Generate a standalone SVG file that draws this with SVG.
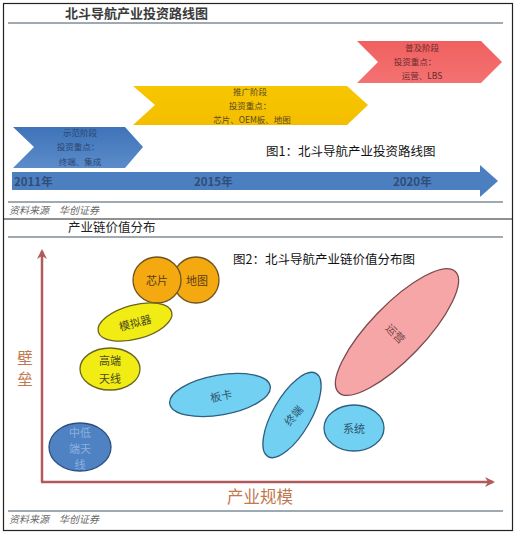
<svg xmlns="http://www.w3.org/2000/svg" width="516" height="533" viewBox="0 0 516 533">
<defs>
<style>
.t{font-family:"Noto Sans CJK SC","Liberation Sans",sans-serif}
.title{font-size:13px;font-weight:bold;fill:#3a3a3a}
.rule{stroke:#7f8c99;stroke-width:1.5}
.src{font-size:10px;font-style:italic;fill:#6a6a6a}
.cap{font-size:12.5px;fill:#111}
.chev{font-size:8.5px;text-anchor:middle}
.yr{font-size:11.5px;font-weight:bold;fill:#2f4d78}
.ax{stroke:#b05a5c;stroke-width:2.5;fill:none}
.axl{font-size:16.5px;fill:#c0784e}
.el{font-size:11px;text-anchor:middle;dominant-baseline:central}
.lb{fill:#72d0f2;stroke:#2e5f7e;stroke-width:1.3}
.yl{fill:#f1ec14;stroke:#6b6420;stroke-width:1.3}
.or{fill:#f4a910;stroke:#6e5220;stroke-width:1.3}
</style>
<linearGradient id="gb" x1="0" y1="0" x2="0" y2="1"><stop offset="0" stop-color="#3f73b8"/><stop offset="1" stop-color="#5b8cca"/></linearGradient>
<linearGradient id="gy" x1="0" y1="0" x2="0" y2="1"><stop offset="0" stop-color="#f7c600"/><stop offset="1" stop-color="#f3be00"/></linearGradient>
<linearGradient id="gr" x1="0" y1="0" x2="0" y2="1"><stop offset="0" stop-color="#f06060"/><stop offset="1" stop-color="#f47272"/></linearGradient>
<marker id="ah" viewBox="0 0 10 10" refX="8" refY="5" markerWidth="4" markerHeight="4" orient="auto"><path d="M0,0 L10,5 L0,10 L3,5 Z" fill="#b05a5c"/></marker>
</defs>
<rect width="516" height="533" fill="#fff"/>
<rect x="3.5" y="3.5" width="509" height="527" fill="none" stroke="#222" stroke-width="1.2"/>
<line x1="3" y1="219" x2="513" y2="219" stroke="#222" stroke-width="1.2"/>

<!-- top panel -->
<g id="top-title">
<text class="t title" x="65" y="18">北斗导航产业投资路线图</text>
<line class="rule" x1="8" y1="23" x2="503" y2="23"/>
</g>
<g id="stage3">
<path d="M357,41 L481,41 L502,62 L481,83 L357,83 L378,62 Z" fill="url(#gr)"/>
<text class="t chev" fill="#6a2a2a" x="422" y="51">普及阶段</text>
<text class="t chev" fill="#6a2a2a" x="415" y="65">投资重点：</text>
<text class="t chev" fill="#6a2a2a" x="422" y="79">运营、LBS</text>
</g>
<g id="stage2">
<path d="M133,86 L347,86 L368,105 L347,125 L133,125 L155,105 Z" fill="url(#gy)"/>
<text class="t chev" fill="#5a4a20" x="250" y="95">推广阶段</text>
<text class="t chev" fill="#5a4a20" x="250" y="109">投资重点：</text>
<text class="t chev" fill="#5a4a20" x="252" y="123">芯片、OEM板、地图</text>
</g>
<g id="stage1">
<path d="M13,127 L125,127 L143,147 L125,168 L13,168 L34,147 Z" fill="url(#gb)"/>
<text class="t chev" fill="#2a4670" x="80" y="136">示范阶段</text>
<text class="t chev" fill="#2a4670" x="78" y="150">投资重点：</text>
<text class="t chev" fill="#2a4670" x="80" y="165">终端、集成</text>
</g>
<g id="timeline">
<path d="M12,172 L480,172 L480,165 L498,181 L480,197 L480,190 L12,190 Z" fill="#4c7fc0"/>
<text class="t yr" x="14" y="186">2011年</text>
<text class="t yr" x="194" y="186">2015年</text>
<text class="t yr" x="393" y="186">2020年</text>
</g>
<text class="t cap" x="266" y="156">图1：北斗导航产业投资路线图</text>
<line class="rule" x1="8" y1="202" x2="503" y2="202"/>
<text class="t src" x="9" y="214">资料来源　华创证券</text>

<!-- bottom panel -->
<g id="bottom-title">
<text class="t" x="68" y="232" style="font-size:12.5px;fill:#222">产业链价值分布</text>
<line class="rule" x1="8" y1="237" x2="503" y2="237"/>
</g>
<text class="t cap" x="233" y="264">图2：北斗导航产业链价值分布图</text>

<g id="connectors">
<line class="ax" x1="42" y1="482" x2="42" y2="251" marker-end="url(#ah)"/>
<line class="ax" x1="41" y1="482" x2="493" y2="482" marker-end="url(#ah)"/>
</g>
<text class="t axl" x="25" y="364" text-anchor="middle" style="font-size:15.5px">壁</text>
<text class="t axl" x="25" y="385" text-anchor="middle" style="font-size:15.5px">垒</text>
<text class="t axl" x="227" y="503">产业规模</text>

<g id="map"><ellipse class="or" cx="196" cy="280" rx="23" ry="23"/><text class="t el" x="197" y="280" fill="#5a3a10">地图</text></g>
<g id="chip"><ellipse class="or" cx="157" cy="280" rx="24" ry="23"/><text class="t el" x="157" y="280" fill="#5a3a10">芯片</text></g>
<g id="simulator"><ellipse class="yl" cx="135" cy="322" rx="38" ry="17" transform="rotate(-15 135 322)"/><text class="t el" x="135" y="322" fill="#4a4a20" transform="rotate(-15 135 322)">模拟器</text></g>
<g id="hi-antenna"><ellipse class="yl" cx="110" cy="369" rx="30" ry="21"/><text class="t el" x="110" y="360" fill="#4a4a20">高端</text><text class="t el" x="110" y="378" fill="#4a4a20">天线</text></g>
<g id="lo-antenna"><ellipse cx="80" cy="447" rx="31" ry="24" fill="#4f82c3" stroke="#2e4f80" stroke-width="1.3"/><text class="t el" x="80" y="432" fill="#8ab0e0">中低</text><text class="t el" x="80" y="448" fill="#8ab0e0">端天</text><text class="t el" x="80" y="464" fill="#8ab0e0">线</text></g>
<g id="board"><ellipse class="lb" cx="220" cy="395" rx="51" ry="20" transform="rotate(-10 220 395)"/><text class="t el" x="221" y="395" fill="#2e5570" transform="rotate(-12 221 395)">板卡</text></g>
<g id="operate"><ellipse cx="397" cy="332" rx="84" ry="27" fill="#f6a6a6" stroke="#7a4a4e" stroke-width="1.3" transform="rotate(-46 397 332)"/><text class="t el" x="396" y="333" fill="#7a4a4e" transform="rotate(45 396 333)">运营</text></g>
<g id="terminal"><ellipse class="lb" cx="292" cy="415" rx="48" ry="19" transform="rotate(-60 292 415)"/><text class="t el" x="293" y="415" fill="#2e5570" transform="rotate(-50 293 415)">终端</text></g>
<g id="system"><ellipse class="lb" cx="354" cy="428" rx="30" ry="23"/><text class="t el" x="354" y="428" fill="#2e5570">系统</text></g>

<line class="rule" x1="8" y1="511" x2="503" y2="511"/>
<text class="t src" x="9" y="523">资料来源　华创证券</text>
</svg>
